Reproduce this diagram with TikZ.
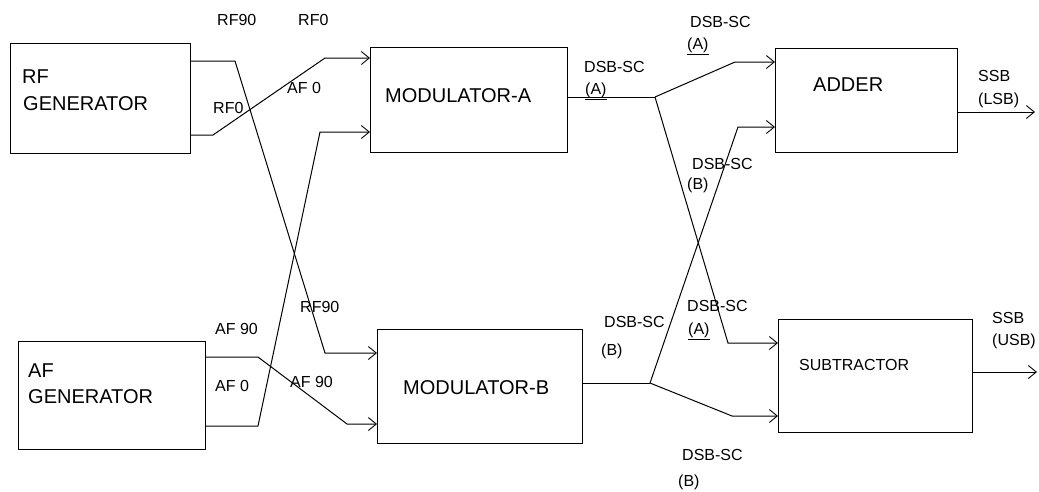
\documentclass[tikz,border=0pt]{standalone}
\usepackage{fontspec}
\setmainfont{Liberation Sans}
\usetikzlibrary{arrows.meta}
\begin{document}
\begin{tikzpicture}[x=1pt,y=-1pt,
  blk/.style={draw,line width=1.2pt,minimum width=#1,anchor=north west,inner sep=0pt},
  lbl/.style={anchor=base west,inner sep=0pt,font=\fontsize{16}{18}\selectfont},
  btxt/.style={anchor=base west,inner sep=0pt,font=\fontsize{20}{22}\selectfont},
  wire/.style={line width=1pt},
  arr/.style={line width=1pt,-{Straight Barb[length=8pt,width=13pt,line width=0.9pt]}}]
\useasboundingbox[fill=white] (0,0) rectangle (1039,491);
% boxes
\node[blk=180pt,minimum height=110pt] (rfg) at (10,43) {};
\node[blk=187pt,minimum height=108pt] (afg) at (18,341) {};
\node[blk=197pt,minimum height=105pt] (moda) at (370,47) {};
\node[blk=205pt,minimum height=114pt] (modb) at (377,329) {};
\node[blk=182pt,minimum height=104pt] (add) at (775,48) {};
\node[blk=194pt,minimum height=113pt] (sub) at (778,319) {};
% box texts
\node[btxt] (t1) at (22,83) {RF};
\node[btxt] (t2) at (23,110) {GENERATOR};
\node[btxt] (t3) at (28,377) {AF};
\node[btxt] (t4) at (28,403) {GENERATOR};
\node[btxt] (t5) at (385,102) {MODULATOR-A};
\node[btxt] (t6) at (403,394) {MODULATOR-B};
\node[btxt] (t7) at (813,91) {ADDER};
\node[lbl] (t8) at (799,370) {SUBTRACTOR};
% bend points
\coordinate (a1) at (190,61);  \coordinate (a2) at (235,61);  \coordinate (a3) at (325,353);
\coordinate (b1) at (190,135); \coordinate (b2) at (213,135); \coordinate (b3) at (325,58);
\coordinate (c1) at (205,426); \coordinate (c2) at (258,426); \coordinate (c3) at (320,132);
\coordinate (d1) at (205,357); \coordinate (d2) at (258,357); \coordinate (d3) at (347,424);
\coordinate (ja) at (655,97);  \coordinate (e1) at (735,62);  \coordinate (e2) at (728,343);
\coordinate (jb) at (650,383); \coordinate (f1) at (738,127); \coordinate (f2) at (732,416);
\coordinate (oa) at (1035,112); \coordinate (ob) at (1037,372);
% connectors
\draw[arr] (rfg.east |- a1) -- (a2) -- (a3) -- (modb.west |- a3);
\draw[arr] (rfg.east |- b1) -- (b2) -- (b3) -- (moda.west |- b3);
\draw[arr] (afg.east |- c1) -- (c2) -- (c3) -- (moda.west |- c3);
\draw[arr] (afg.east |- d1) -- (d2) -- (d3) -- (modb.west |- d3);
\draw[wire] (moda.east |- ja) -- (ja);
\draw[arr] (ja) -- (e1) -- (add.west |- e1);
\draw[arr] (ja) -- (e2) -- (sub.west |- e2);
\draw[wire] (modb.east |- jb) -- (jb);
\draw[arr] (jb) -- (f1) -- (add.west |- f1);
\draw[arr] (jb) -- (f2) -- (sub.west |- f2);
\draw[arr] (add.east |- oa) -- (oa);
\draw[arr] (sub.east |- ob) -- (ob);
% labels
\node[lbl] (l1) at (217,25) {RF90};
\node[lbl] (l2) at (298,25) {RF0};
\node[lbl] (l3) at (213,113) {RF0};
\node[lbl] (l4) at (287,93) {AF 0};
\node[lbl] (l5) at (584,72) {DSB-SC};
\node[lbl] (l6) at (585,94) {\underline{(A)}};
\node[lbl] (l7) at (690,27) {DSB-SC};
\node[lbl] (l8) at (687,49) {\underline{(A)}};
\node[lbl] (l9) at (692,169) {DSB-SC};
\node[lbl] (l10) at (687,189) {(B)};
\node[lbl] (l11) at (978,81) {SSB};
\node[lbl] (l12) at (978,104) {(LSB)};
\node[lbl] (l13) at (215,334) {AF 90};
\node[lbl] (l14) at (300,312) {RF90};
\node[lbl] (l15) at (215,391) {AF 0};
\node[lbl] (l16) at (290,387) {AF 90};
\node[lbl] (l17) at (604,327) {DSB-SC};
\node[lbl] (l18) at (601,355) {(B)};
\node[lbl] (l19) at (687,311) {DSB-SC};
\node[lbl] (l20) at (688,334) {\underline{(A)}};
\node[lbl] (l21) at (992,323) {SSB};
\node[lbl] (l22) at (992,345) {(USB)};
\node[lbl] (l23) at (682,460) {DSB-SC};
\node[lbl] (l24) at (678,486) {(B)};
\end{tikzpicture}
\end{document}
